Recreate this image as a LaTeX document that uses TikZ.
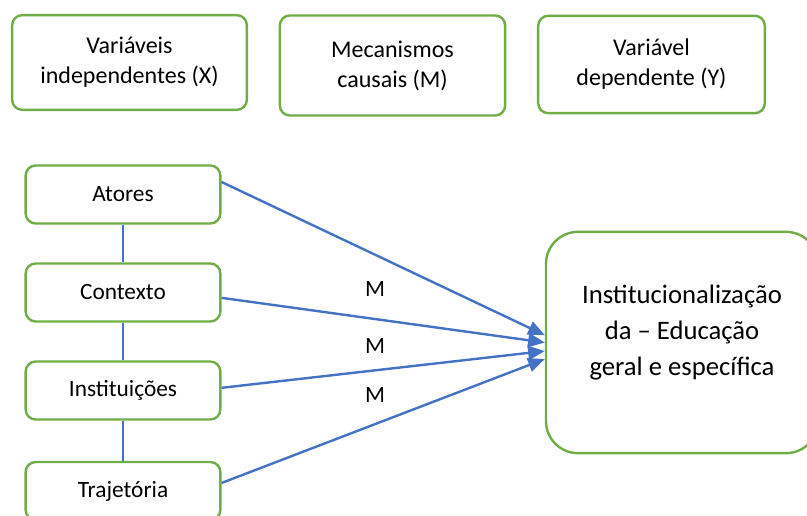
\documentclass[tikz,border=0pt]{standalone}
\usepackage{fontspec}
\setmainfont{Carlito}
\usepackage{xcolor}
\usepackage{tikz}
\usetikzlibrary{positioning,%
  arrows.meta,%
  shapes
}

\definecolor{verdecaixa}{HTML}{70AD47}
\definecolor{azulseta}{HTML}{4472C4}

\begin{document}
\begin{tikzpicture}
                    [
                        x=0.75pt, y=-0.75pt,
                        every node/.style={align=center, font=\fontsize{17.5}{22.5}\selectfont},
                        caixa/.style={draw=verdecaixa, line width=1.8pt, rounded corners=7.5pt, minimum width=146pt, minimum height=43.5pt},
                        titulo/.style={caixa, font=\fontsize{18}{22.5}\selectfont, minimum width=170pt, minimum height=73pt},
                        seta/.style={draw=azulseta, line width=1.8pt, -{Triangle[length=12.5pt,width=10.5pt]}},
                        ligacao/.style={draw=azulseta, line width=0.8pt}
                    ]
                    
                    % Rahmen
                    \useasboundingbox (0,0) rectangle (807,516);
                    
                    % oben
                    \node[titulo, minimum width=176pt, minimum height=71pt] (varx) at (129.5,62.5) {Variáveis\\independentes (X)};
                    \node[titulo, minimum width=169pt, minimum height=75pt] (mecm) at (392.5,65.5) {Mecanismos\\causais (M)};
                    \node[titulo] (vary) at (651.5,64.5) {Variável\\dependente (Y)};
                    
                    % links
                    \node[caixa] (atores) at (123,194.5) {Atores};
                    \node[caixa] (contexto) at (123,292.5) {Contexto};
                    \node[caixa] (instituicoes) at (123,390.5) {Instituições};
                    \node[caixa] (trajetoria) at (123,491) {Trajetória};
                    
                    % rechts
                    \node[caixa, rounded corners=24pt, minimum width=204pt, minimum height=166pt] (inst) at (682,342.5) {};
                    \node[font=\fontsize{20}{27}\selectfont] (insttxt) at (682,332.5) {Institucionalização\\da – Educação\\geral e específica};
                    
                    \draw[ligacao] (atores) -- (contexto);
                    \draw[ligacao] (contexto) -- (instituicoes);
                    \draw[ligacao] (instituicoes) -- (trajetoria);
                    
                    \draw[seta] ([yshift=9.4pt]atores.east) -- ([yshift=5.5pt]inst.west);
                    \draw[seta] ([yshift=-4pt]contexto.east) -- (inst.west);
                    \draw[seta] ([yshift=2pt]instituicoes.east) -- ([yshift=-6.4pt]inst.west);
                    \draw[seta] ([yshift=6pt]trajetoria.east) -- ([yshift=-12.4pt]inst.west);
                    
                    \node (m1) at (375,289) {M};
                    \node (m2) at (375,346) {M};
                    \node (m3) at (375,395) {M};
                \end{tikzpicture}
\end{document}
